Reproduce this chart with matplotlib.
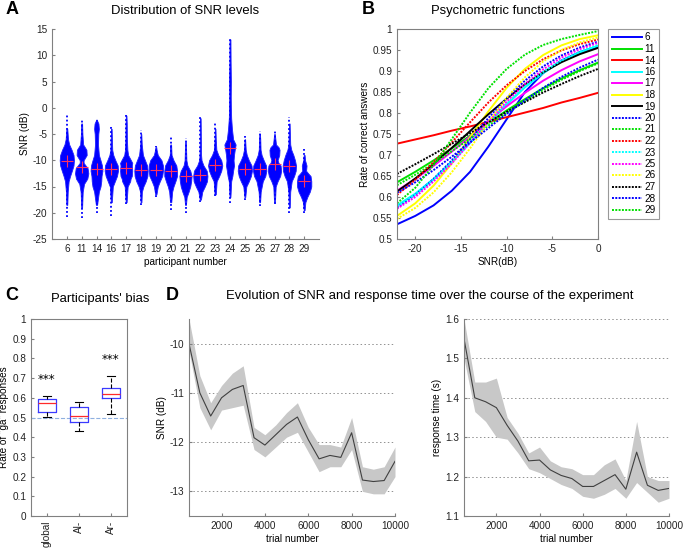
import numpy as np
import matplotlib
matplotlib.use("Agg")
import matplotlib.pyplot as plt

plt.rcParams['font.family'] = ['Liberation Sans', 'DejaVu Sans']
plt.rcParams['font.size'] = 7.2
plt.rcParams['axes.unicode_minus'] = False

# ---------------- data ----------------
participants = ['6', '11', '14', '16', '17', '18', '19', '20', '21', '22',
                '23', '24', '25', '26', '27', '28', '29']

# panel A: SNR distribution per participant
snr_median = [-10.1, -11.3, -11.6, -11.6, -11.4, -11.8, -11.8, -12.0, -13.0,
              -12.8, -10.9, -7.6, -11.6, -11.6, -10.8, -11.0, -14.0]
snr_min = [-20.8, -21.0, -20.1, -20.7, -18.3, -18.5, -17.0, -19.5, -20.0,
           -17.9, -16.9, -18.2, -17.6, -18.8, -18.4, -20.1, -20.0]
snr_max = [-1.2, -2.3, -2.2, -3.2, -1.2, -4.2, -7.2, -5.5, -5.8,
           -1.8, -2.8, 13.5, -5.3, -4.5, -4.5, -1.8, -7.8]
# outline of each swarm: SNR level and half width (in category units)
profile_snr = [
    [-18.5, -16, -14, -13, -12, -11, -10, -9, -8, -7, -6, -4],
    [-19, -16, -14.5, -13.5, -12.5, -11.5, -10.5, -10, -9, -8, -7, -5, -3],
    [-18.5, -16, -15, -14, -13, -12, -11, -10, -9, -7, -5, -4, -3, -2.5],
    [-18, -15, -14, -13, -12, -11, -10, -9, -8, -6, -4],
    [-18, -15, -14, -13.5, -13, -12, -11, -10.5, -10, -9, -8, -6, -3, -1.5],
    [-18, -16, -15, -14, -13, -12, -11, -10, -9, -7, -5],
    [-16.5, -15, -14, -13, -12, -11, -10, -9, -8, -7.5],
    [-18, -16, -15, -14, -13, -12, -11, -10, -9, -7],
    [-18.5, -17, -16, -15, -14, -13, -12, -11, -10, -8, -6.5],
    [-17.5, -16, -15, -14, -13, -12, -11, -10, -9, -7, -4, -2],
    [-16.5, -14, -13, -12, -11, -10, -9, -8, -6, -4],
    [-17, -14, -13, -12, -11, -10, -9, -8, -7, -6, -4, -2, 0, 2, 5, 9, 13],
    [-17, -15, -14, -13, -12, -11, -10, -9, -8, -6],
    [-18, -16, -14, -13, -12, -11, -10, -9, -8, -6, -5],
    [-18, -15, -14, -13, -12, -11, -10.5, -10, -9, -8, -7.5, -7, -6, -5],
    [-19, -16, -14, -13, -12, -11, -10, -9, -8, -7, -5, -3],
    [-19.5, -18, -17, -16, -15, -14, -13, -12.5, -12, -11, -10, -9],
]
profile_width = [
    [0.03, 0.06, 0.12, 0.22, 0.34, 0.45, 0.48, 0.45, 0.32, 0.16, 0.08, 0.03],
    [0.03, 0.07, 0.16, 0.38, 0.45, 0.4, 0.13, 0.13, 0.34, 0.32, 0.1, 0.05, 0.03],
    [0.04, 0.16, 0.27, 0.32, 0.34, 0.4, 0.37, 0.27, 0.16, 0.1, 0.12, 0.16, 0.13, 0.05],
    [0.03, 0.1, 0.24, 0.38, 0.45, 0.43, 0.27, 0.13, 0.06, 0.04, 0.02],
    [0.03, 0.1, 0.27, 0.3, 0.38, 0.41, 0.38, 0.41, 0.32, 0.13, 0.08, 0.05, 0.04, 0.02],
    [0.03, 0.06, 0.16, 0.32, 0.43, 0.45, 0.41, 0.27, 0.13, 0.05, 0.02],
    [0.04, 0.13, 0.27, 0.43, 0.48, 0.48, 0.38, 0.13, 0.05, 0.03],
    [0.04, 0.1, 0.19, 0.32, 0.43, 0.43, 0.38, 0.19, 0.06, 0.03],
    [0.03, 0.08, 0.21, 0.32, 0.38, 0.41, 0.32, 0.13, 0.06, 0.04, 0.02],
    [0.04, 0.13, 0.3, 0.45, 0.48, 0.43, 0.21, 0.08, 0.05, 0.04, 0.03, 0.02],
    [0.04, 0.1, 0.27, 0.41, 0.48, 0.41, 0.21, 0.08, 0.04, 0.02],
    [0.03, 0.08, 0.16, 0.21, 0.27, 0.24, 0.27, 0.32, 0.38, 0.21, 0.13, 0.08, 0.06, 0.05, 0.06, 0.04, 0.03],
    [0.03, 0.1, 0.27, 0.41, 0.48, 0.45, 0.27, 0.13, 0.06, 0.02],
    [0.03, 0.07, 0.21, 0.38, 0.45, 0.43, 0.27, 0.13, 0.06, 0.04, 0.02],
    [0.03, 0.08, 0.21, 0.38, 0.45, 0.41, 0.27, 0.21, 0.32, 0.34, 0.27, 0.1, 0.06, 0.02],
    [0.03, 0.06, 0.16, 0.32, 0.43, 0.45, 0.38, 0.27, 0.13, 0.06, 0.04, 0.02],
    [0.03, 0.08, 0.21, 0.38, 0.48, 0.48, 0.43, 0.27, 0.13, 0.16, 0.06, 0.03],
]

# panel B: psychometric functions (rate of correct answers vs SNR)
psy_snr = [-22, -20, -18, -16, -14, -12, -10, -8, -6, -4, -2, 0]
psy_labels = ['6', '11', '14', '16', '17', '18', '19', '20', '21', '22',
              '23', '25', '26', '27', '28', '29']
psy_rates = [
    [.535, .555, .580, .615, .660, .720, .785, .850, .895, .925, .945, .958],
    [.635, .660, .687, .716, .746, .776, .806, .833, .859, .882, .902, .920],
    [.727, .737, .747, .758, .768, .779, .790, .801, .812, .825, .836, .848],
    [.580, .608, .643, .684, .729, .776, .820, .861, .895, .923, .944, .960],
    [.615, .643, .674, .708, .744, .781, .816, .848, .877, .902, .923, .940],
    [.555, .585, .627, .680, .742, .804, .860, .905, .938, .961, .976, .985],
    [.613, .644, .679, .717, .757, .797, .834, .868, .897, .921, .940, .955],
    [.575, .605, .643, .687, .737, .788, .835, .877, .911, .937, .956, .970],
    [.628, .653, .680, .709, .739, .770, .800, .828, .855, .879, .900, .918],
    [.605, .641, .683, .730, .778, .825, .866, .900, .928, .949, .964, .975],
    [.578, .606, .642, .683, .729, .777, .822, .863, .898, .925, .946, .962],
    [.572, .600, .637, .680, .729, .779, .827, .869, .904, .932, .952, .967],
    [.548, .574, .611, .659, .716, .778, .836, .885, .923, .950, .968, .980],
    [.655, .678, .702, .727, .752, .778, .803, .826, .849, .869, .888, .905],
    [.610, .635, .664, .696, .730, .764, .798, .830, .860, .886, .908, .927],
    [.585, .622, .676, .738, .801, .859, .905, .939, .962, .976, .986, .995],
]
psy_colors = ['#0000ff', '#00e000', '#ff0000', '#00ffff', '#ff00ff', '#ffff00', '#000000',
              '#0000ff', '#00e000', '#ff0000', '#00ffff', '#ff00ff', '#ffff00', '#000000',
              '#0000ff', '#00e000']

# panel C: bias boxplots
bias_labels = ['global', 'Al-', 'Ar-']
bias_med = [0.576, 0.508, 0.619]
bias_q1 = [0.527, 0.475, 0.598]
bias_q3 = [0.592, 0.552, 0.649]
bias_lo = [0.501, 0.433, 0.516]
bias_hi = [0.608, 0.580, 0.710]
bias_signif = ['***', '', '***']

# panel D: evolution over trials
trials = [500, 1000, 1500, 2000, 2500, 3000, 3500, 4000, 4500, 5000,
          5500, 6000, 6500, 7000, 7500, 8000, 8500, 9000, 9500, 10000]
snr_mean = [-10.0, -11.0, -11.47, -11.1, -10.93, -10.85, -11.91, -12.06, -11.85, -11.64,
            -11.49, -11.95, -12.34, -12.27, -12.31, -11.81, -12.77, -12.8, -12.78, -12.39]
snr_lo = [-10.15, -11.3, -11.75, -11.35, -11.3, -11.25, -12.15, -12.3, -12.1, -11.9,
          -11.8, -12.2, -12.6, -12.5, -12.5, -12.15, -13.0, -13.05, -13.05, -12.7]
snr_hi = [-9.5, -10.65, -11.2, -10.85, -10.6, -10.45, -11.7, -11.85, -11.65, -11.4,
          -11.2, -11.7, -12.05, -12.05, -12.1, -11.5, -12.5, -12.55, -12.5, -12.1]
rt_mean = [1.55, 1.40, 1.39, 1.375, 1.33, 1.29, 1.24, 1.242, 1.217, 1.203,
           1.195, 1.175, 1.175, 1.19, 1.205, 1.168, 1.262, 1.178, 1.165, 1.17]
rt_lo = [1.50, 1.365, 1.34, 1.30, 1.295, 1.26, 1.22, 1.21, 1.195, 1.18,
         1.17, 1.15, 1.145, 1.155, 1.17, 1.145, 1.185, 1.16, 1.135, 1.145]
rt_hi = [1.60, 1.44, 1.44, 1.45, 1.35, 1.31, 1.26, 1.275, 1.24, 1.225,
         1.22, 1.205, 1.205, 1.23, 1.245, 1.19, 1.34, 1.20, 1.19, 1.19]

# ---------------- figure ----------------
W, H = 683, 550
fig = plt.figure(figsize=(W / 100, H / 100), dpi=100)

TICK = 7.2      # 10 px
LAB = 7.2
TITLE = 9.36    # 13 px


def box(l, t, r, b):
    return [l / W, 1 - b / H, (r - l) / W, (b - t) / H]


def style(ax, full_box=False):
    for s in ['top', 'right']:
        ax.spines[s].set_visible(full_box)
    for s in ax.spines.values():
        s.set_color('#808080')
        s.set_linewidth(0.8)
    ax.tick_params(direction='in', length=2.5, color='#808080', labelsize=TICK,
                   labelcolor='#222222', top=False, right=False)


# ----- A -----
axA = fig.add_axes(box(52, 29, 319, 239))
style(axA)
for i in range(len(participants)):
    pos = i + 1
    axA.plot([pos, pos], [snr_min[i], snr_max[i]], color='#0000ff', lw=1.3,
             linestyle=(0, (1, 1.3)))
    y = np.array(profile_snr[i])
    w = np.array(profile_width[i])
    axA.fill_betweenx(y, pos - w, pos + w, color='#0000ff', lw=0.6,
                      edgecolor='#2020ff')
    axA.plot([pos - 0.3, pos + 0.3], [snr_median[i]] * 2, color='#ff3060', lw=0.7)
    axA.plot(pos, snr_median[i], marker='+', ms=8, mew=0.8, color='#ff3060')
axA.set_xlim(0, 18)
axA.set_ylim(-25, 15)
axA.set_xticks(range(1, len(participants) + 1))
axA.set_xticklabels(participants)
axA.set_yticks(range(-25, 16, 5))
axA.set_xlabel('participant number', fontsize=LAB, labelpad=2)
axA.set_ylabel('SNR (dB)', fontsize=LAB, labelpad=2)
axA.set_title('Distribution of SNR levels', fontsize=TITLE, pad=11)

# ----- B -----
axB = fig.add_axes(box(397, 29, 598, 239))
style(axB, full_box=True)
for k in range(len(psy_labels)):
    ls = '-' if k < 7 else (0, (1, 0.7))
    axB.plot(psy_snr, psy_rates[k], color=psy_colors[k], lw=1.4, linestyle=ls,
             label=psy_labels[k])
axB.set_xlim(-22, 0)
axB.set_ylim(0.5, 1)
axB.set_xticks([-20, -15, -10, -5, 0])
axB.set_yticks(np.arange(0.5, 1.001, 0.05))
axB.set_yticklabels(['%g' % round(v, 2) for v in np.arange(0.5, 1.001, 0.05)])
axB.set_xlabel('SNR(dB)', fontsize=LAB, labelpad=2)
axB.set_ylabel('Rate of correct answers', fontsize=LAB, labelpad=2)
axB.set_title('Psychometric functions', fontsize=TITLE, pad=11)
leg = axB.legend(loc='upper left', bbox_to_anchor=(1.05, 1.0), borderaxespad=0,
                 fontsize=TICK, handlelength=3.0, handletextpad=0.3, labelspacing=0.15,
                 fancybox=False, borderpad=0.35)
leg.get_frame().set_edgecolor('#808080')
leg.get_frame().set_linewidth(0.8)

# ----- C -----
axC = fig.add_axes(box(31, 319, 127, 516))
style(axC, full_box=True)
stats = []
for i in range(len(bias_labels)):
    stats.append(dict(med=bias_med[i], q1=bias_q1[i], q3=bias_q3[i],
                      whislo=bias_lo[i], whishi=bias_hi[i], fliers=[]))
axC.axhline(0.5, color='#8fb0e0', lw=0.8, linestyle='--')
axC.bxp(stats, positions=[1, 2, 3], widths=0.55, showfliers=False,
        boxprops=dict(color='#3a3aff', lw=0.9),
        medianprops=dict(color='#ff2a2a', lw=0.9),
        whiskerprops=dict(color='black', lw=0.8, linestyle='--'),
        capprops=dict(color='black', lw=0.8))
for i in range(len(bias_labels)):
    if bias_signif[i]:
        axC.text(i + 1, bias_hi[i] + 0.085, bias_signif[i], ha='center', va='center',
                 fontsize=8.64, family='DejaVu Sans')
axC.set_xlim(0.5, 3.5)
axC.set_ylim(0, 1)
axC.set_yticks(np.arange(0, 1.01, 0.1))
axC.set_yticklabels(['%g' % round(v, 1) for v in np.arange(0, 1.01, 0.1)])
axC.set_xticks([1, 2, 3])
axC.set_xticklabels(bias_labels, rotation=90)
axC.set_ylabel("Rate of ''ga'' responses", fontsize=LAB, labelpad=2)
axC.set_title("Participants' bias", fontsize=TITLE, pad=12, x=0.72)

# ----- D -----
axD1 = fig.add_axes(box(189, 319, 395, 516))
style(axD1)
axD1.fill_between(trials, snr_lo, snr_hi, color='#c8c8c8', lw=0)
axD1.plot(trials, snr_mean, color='#404040', lw=0.8)
for g in [-10, -11, -12, -13]:
    axD1.axhline(g, color='#909090', lw=0.7, linestyle=(0, (1.5, 2.5)), zorder=0)
axD1.set_xlim(500, 10000)
axD1.set_ylim(-13.5, -9.5)
axD1.set_yticks([-13, -12, -11, -10])
axD1.set_xticks([2000, 4000, 6000, 8000, 10000])
axD1.set_xlabel('trial number', fontsize=LAB, labelpad=2)
axD1.set_ylabel('SNR (dB)', fontsize=LAB, labelpad=2)

axD2 = fig.add_axes(box(464, 319, 669, 516))
style(axD2)
axD2.fill_between(trials, rt_lo, rt_hi, color='#c8c8c8', lw=0)
axD2.plot(trials, rt_mean, color='#404040', lw=0.8)
for g in [1.2, 1.3, 1.4, 1.5, 1.6]:
    axD2.axhline(g, color='#909090', lw=0.7, linestyle=(0, (1.5, 2.5)), zorder=0)
axD2.set_xlim(500, 10000)
axD2.set_ylim(1.1, 1.6)
axD2.set_yticks([1.1, 1.2, 1.3, 1.4, 1.5, 1.6])
axD2.set_xticks([2000, 4000, 6000, 8000, 10000])
axD2.set_xlabel('trial number', fontsize=LAB, labelpad=2)
axD2.set_ylabel('response time (s)', fontsize=LAB, labelpad=2)

fig.text(430 / W, 1 - 296 / H, 'Evolution of SNR and response time over the course of the experiment',
         fontsize=TITLE, ha='center', va='center')

# panel letters
for letter, x, y in [('A', 6, 10), ('B', 362, 10), ('C', 5, 296), ('D', 166, 296)]:
    fig.text(x / W, 1 - y / H, letter, fontsize=13, fontweight='bold', ha='left', va='center')

fig.savefig('out.png', dpi=100)
